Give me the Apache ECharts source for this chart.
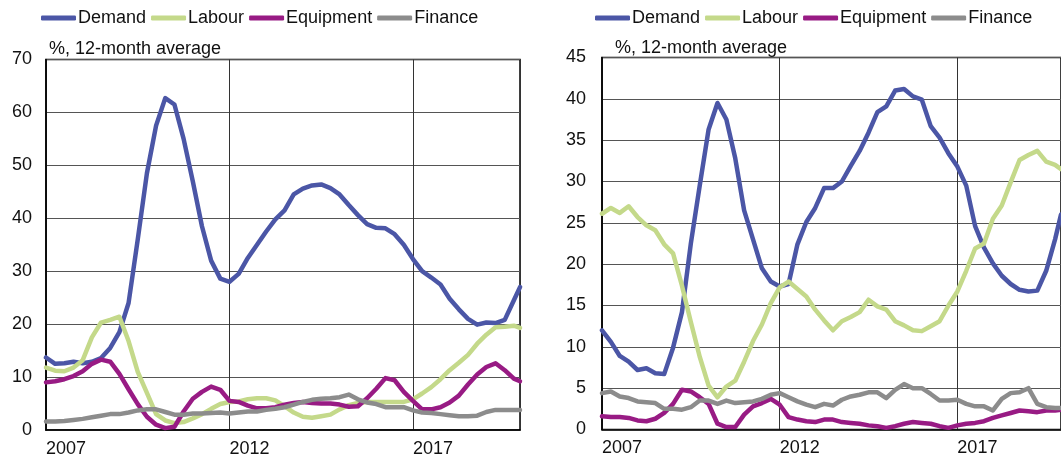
<!DOCTYPE html>
<html>
<head>
<meta charset="utf-8">
<script src="https://cdn.jsdelivr.net/npm/echarts@6/dist/echarts.min.js"></script>
<style>
html,body{margin:0;padding:0;background:#fff;}
#chart{width:1061px;height:463px;}
</style>
</head>
<body>
<div id="chart"></div>
<script>
// Month index from Jan 2007 (0)
var months = [0,3,6,9,12,15,18,21,24,27,30,33,36,39,42,45,48,51,54,57,60,63,66,69,72,75,78,81,84,87,90,93,96,99,102,105,108,111,114,117,120,123,126,129,132,135,138,141,144,147,150,153,155];
var seriesNames = ['Demand','Labour','Equipment','Finance'];
var tickYears = [2007, 2012, 2017];
var subtitle = '%, 12-month average';

// Left panel
var leftDemand = [13.7,12.5,12.6,12.9,12.6,12.9,13.6,15.5,18.5,24,36,48.5,57.5,62.7,61.5,55,47,38.5,32,28.6,28,29.5,32.5,35,37.5,39.8,41.5,44.5,45.6,46.2,46.4,45.7,44.5,42.5,40.6,38.9,38.2,38.1,37,35,32.3,30,28.8,27.5,24.8,22.8,21,19.9,20.3,20.2,20.8,24.5,27];
var leftLabour = [11.8,11.2,11.1,11.8,13.2,17.5,20.3,20.8,21.4,16.8,11,7,3,1.8,1.3,1.5,2.2,3,4,4.9,5.3,5.4,5.8,6,6,5.6,4.5,3.3,2.5,2.3,2.6,2.9,3.9,4.7,5.1,5.3,5.3,5.3,5.3,5.3,5.8,6.9,8.1,9.6,11.3,12.7,14.2,16.3,18,19.4,19.5,19.7,19.3];
var leftEquipment = [9,9.2,9.6,10.2,11.1,12.5,13.3,12.9,10.6,7.7,4.9,2.5,1,0.35,0.6,3.5,5.9,7.2,8.2,7.6,5.5,5.3,4.6,4.1,4.1,4.3,4.8,5.1,5.3,5.1,5,5,4.8,4.4,4.5,6,7.8,9.8,9.4,7.2,5.5,3.9,3.9,4.3,5.2,6.5,8.6,10.5,11.9,12.6,11.3,9.7,9.2];
var leftFinance = [1.6,1.6,1.7,1.9,2.1,2.4,2.7,3,3,3.3,3.7,3.9,3.9,3.4,2.9,2.9,3.1,3.1,3.2,3.3,3.1,3.3,3.5,3.5,3.8,4,4.3,4.8,5.3,5.7,5.9,6,6.2,6.7,5.8,5.2,4.9,4.3,4.3,4.3,3.7,3.3,3.2,3,2.8,2.6,2.6,2.7,3.4,3.8,3.8,3.8,3.8];

// Right panel
var rightDemand = [12,10.6,8.9,8.2,7.2,7.4,6.8,6.7,9.9,14.2,22.5,29.5,36.3,39.5,37.5,32.8,26.5,23,19.5,17.9,17.3,17.6,22.4,25.1,26.8,29.2,29.2,30,31.9,33.7,35.9,38.4,39.1,41,41.2,40.3,39.9,36.7,35.3,33.4,31.8,29.5,24.6,22,20.1,18.6,17.6,16.9,16.7,16.8,19.2,23,26];
var rightLabour = [26.1,26.8,26.2,27,25.7,24.7,24.1,22.4,21.3,17.4,13,8.8,5.3,3.9,5.2,5.9,8.2,10.7,12.7,15.3,17.2,17.9,17,16.1,14.5,13.2,12,13.1,13.6,14.2,15.7,14.9,14.5,13.1,12.6,12,11.9,12.5,13.1,15,16.7,19.2,21.9,22.5,25.5,27.1,29.9,32.6,33.2,33.7,32.4,32,31.5];
var rightEquipment = [1.6,1.5,1.5,1.4,1.1,1,1.3,2,3.1,4.8,4.6,3.9,3.1,0.7,0.3,0.3,1.8,2.8,3.2,3.7,3,1.5,1.2,1,0.9,1.2,1.2,0.9,0.8,0.7,0.5,0.4,0.2,0.4,0.7,0.9,0.8,0.7,0.4,0.2,0.5,0.7,0.8,1,1.4,1.7,2,2.3,2.2,2.1,2.3,2.3,2.4];
var rightFinance = [4.4,4.6,4,3.8,3.4,3.3,3.2,2.5,2.5,2.4,2.7,3.5,3.5,3.1,3.5,3.2,3.3,3.4,3.7,4.2,4.4,3.9,3.4,3,2.7,3.1,2.9,3.6,4,4.2,4.5,4.5,3.8,4.8,5.5,5,5,4.3,3.5,3.5,3.6,3.1,2.8,2.8,2.3,3.7,4.4,4.5,5,3.1,2.7,2.6,2.6];

var colors = ['#4B56A6','#C4D98A','#981B84','#8C8C8C'];
var FONT = 'Liberation Sans, Arial, sans-serif';
var FS = 18;

function pairs(vals){ return months.map(function(m,i){ return [m, vals[i]]; }); }

function xAxisCfg(gridIndex){
  return {
    type:'value', gridIndex:gridIndex, min:0, max:155, interval:60,
    axisLine:{show:true, onZero:false, lineStyle:{color:'#000', width:1.5}},
    axisTick:{show:false},
    axisLabel:{
      color:'#111', fontSize:FS, fontFamily:FONT, align:'left', margin:10,
      showMaxLabel:false,
      formatter:function(v){ if (v % 60 !== 0) return ''; return String(tickYears[v/60]); }
    },
    splitLine:{show:true, lineStyle:{color:'#333', width:1}}
  };
}
function yAxisCfg(gridIndex, max, interval, margin){
  return {
    type:'value', gridIndex:gridIndex, min:0, max:max, interval:interval,
    axisLine:{show:true, lineStyle:{color:'#000', width:1.5}},
    axisTick:{show:false},
    axisLabel:{color:'#111', fontSize:FS, fontFamily:FONT, margin:margin},
    splitLine:{show:true, lineStyle:{color:'#555', width:1}}
  };
}
function mk(name, vals, idx, color){
  return {
    name:name, type:'line', xAxisIndex:idx, yAxisIndex:idx,
    data:pairs(vals), showSymbol:false, symbol:'none',
    lineStyle:{color:color, width:4.5, cap:'round', join:'round'},
    itemStyle:{color:color}, animation:false
  };
}
function legendCfg(left){
  return {
    left:left, top:4, itemWidth:35, itemHeight:5, itemGap:5, icon:'roundRect',
    data:seriesNames,
    textStyle:{fontSize:FS, fontFamily:FONT, color:'#111', padding:[0,0,0,-3]}
  };
}

var chart = echarts.init(document.getElementById('chart'), null, {renderer:'canvas'});
chart.setOption({
  backgroundColor:'#fff',
  animation:false,
  legend:[legendCfg(36), legendCfg(590)],
  title:[
    {text:subtitle, left:44, top:35, textStyle:{fontSize:FS, fontWeight:'normal', fontFamily:FONT, color:'#111'}},
    {text:subtitle, left:610, top:34, textStyle:{fontSize:FS, fontWeight:'normal', fontFamily:FONT, color:'#111'}}
  ],
  grid:[
    {left:46, right:541, top:59.5, bottom:33, show:true, borderColor:'#000', borderWidth:1.5},
    {left:602, right:-12, top:57.5, bottom:33.5, show:true, borderColor:'#000', borderWidth:1.5}
  ],
  xAxis:[xAxisCfg(0), xAxisCfg(1)],
  yAxis:[yAxisCfg(0,70,10,14), yAxisCfg(1,45,5,16)],
  series:[
    mk('Demand', leftDemand, 0, colors[0]),
    mk('Labour', leftLabour, 0, colors[1]),
    mk('Equipment', leftEquipment, 0, colors[2]),
    mk('Finance', leftFinance, 0, colors[3]),
    mk('Demand', rightDemand, 1, colors[0]),
    mk('Labour', rightLabour, 1, colors[1]),
    mk('Equipment', rightEquipment, 1, colors[2]),
    mk('Finance', rightFinance, 1, colors[3])
  ]
});
</script>
</body>
</html>
